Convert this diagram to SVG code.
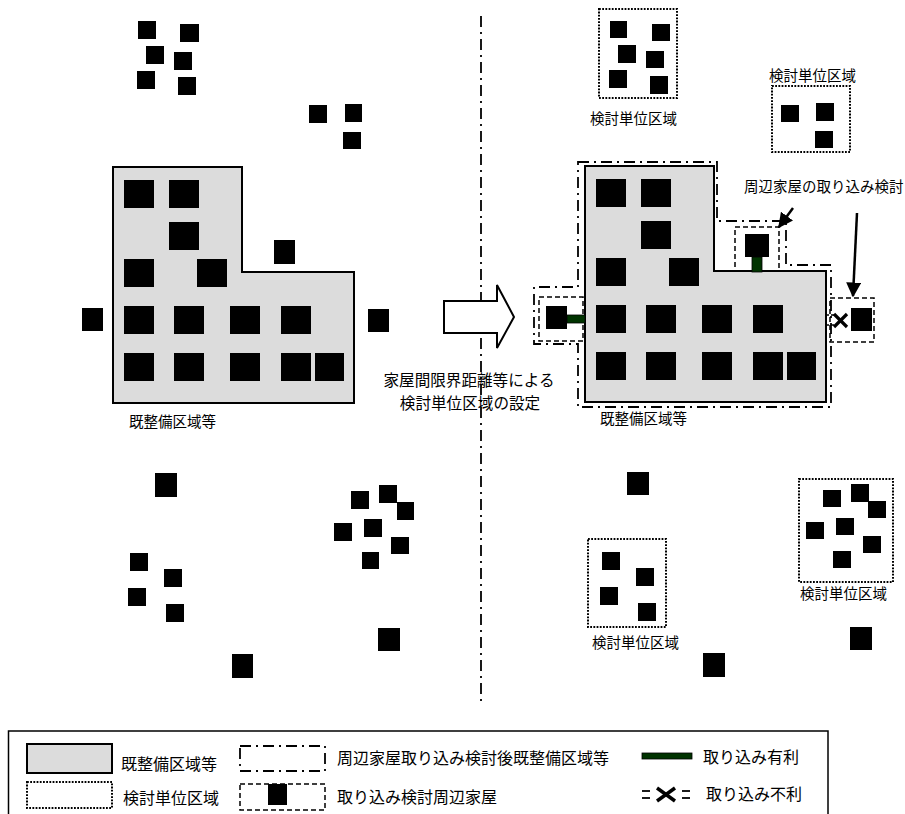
<svg xmlns="http://www.w3.org/2000/svg" width="905" height="814" viewBox="0 0 905 814">
<defs>
<style>
.h{fill:#000}
.reg{fill:#dcdcdc;stroke:#000;stroke-width:2}
.dd{fill:none;stroke:#000;stroke-width:1.8;stroke-dasharray:11 5 2 5}
.dash{fill:none;stroke:#000;stroke-width:1.5;stroke-dasharray:5 3}
.dot{fill:none;stroke:#000;stroke-width:2;stroke-dasharray:1.8 1.4}
.g{fill:#003300;stroke:#000;stroke-width:0.8}
.t{font-family:"Noto Sans CJK JP","Noto Sans CJK SC",sans-serif;fill:#000}
.s{font-size:14.5px}
.l{font-size:16px}
</style>
<marker id="ah" viewBox="0 0 10 10" refX="9" refY="5" markerWidth="15" markerHeight="15" markerUnits="userSpaceOnUse" orient="auto">
<path d="M0,0 L10,5 L0,10 z" fill="#000"/>
</marker>
</defs>
<rect width="905" height="814" fill="#fff"/>

<!-- divider -->
<line x1="481" y1="16" x2="481" y2="705" stroke="#000" stroke-width="1.8" stroke-dasharray="11 5 2 5"/>

<!-- LEFT PANEL -->
<g id="left-top-cluster">
<rect class="h" x="138" y="21" width="18" height="18"/>
<rect class="h" x="180" y="24" width="19" height="18"/>
<rect class="h" x="146" y="46" width="18" height="18"/>
<rect class="h" x="174" y="52" width="18" height="18"/>
<rect class="h" x="137" y="71" width="18" height="18"/>
<rect class="h" x="178" y="77" width="18" height="18"/>
</g>
<g id="left-top-cluster2">
<rect class="h" x="309" y="105" width="18" height="18"/>
<rect class="h" x="345" y="104" width="17" height="18"/>
<rect class="h" x="343" y="132" width="18" height="17"/>
</g>
<g id="left-region">
<polygon class="reg" points="113,167 242,167 242,272 354,272 354,403 113,403"/>
<rect class="h" x="124" y="180" width="30" height="28"/>
<rect class="h" x="169" y="180" width="30" height="28"/>
<rect class="h" x="169" y="222" width="30" height="28"/>
<rect class="h" x="124" y="259" width="30" height="28"/>
<rect class="h" x="197" y="259" width="30" height="28"/>
<rect class="h" x="124" y="306" width="30" height="28"/>
<rect class="h" x="174" y="306" width="30" height="28"/>
<rect class="h" x="230" y="306" width="30" height="28"/>
<rect class="h" x="281" y="306" width="30" height="28"/>
<rect class="h" x="124" y="353" width="30" height="28"/>
<rect class="h" x="174" y="353" width="30" height="28"/>
<rect class="h" x="230" y="353" width="30" height="28"/>
<rect class="h" x="281" y="353" width="30" height="28"/>
<rect class="h" x="315" y="353" width="29" height="28"/>
<text class="t s" x="129" y="426.5">既整備区域等</text>
</g>
<g id="left-near-houses">
<rect class="h" x="274" y="240" width="21" height="24"/>
<rect class="h" x="82" y="308" width="21" height="23"/>
<rect class="h" x="368" y="309" width="21" height="23"/>
</g>
<g id="left-bottom">
<rect class="h" x="155" y="473" width="22" height="24"/>
<rect class="h" x="351" y="491" width="18" height="18"/>
<rect class="h" x="379" y="485" width="18" height="18"/>
<rect class="h" x="397" y="502" width="17" height="18"/>
<rect class="h" x="334" y="523" width="18" height="18"/>
<rect class="h" x="364" y="519" width="18" height="18"/>
<rect class="h" x="391" y="537" width="18" height="17"/>
<rect class="h" x="362" y="552" width="17" height="17"/>
<rect class="h" x="130" y="553" width="18" height="18"/>
<rect class="h" x="164" y="569" width="18" height="18"/>
<rect class="h" x="128" y="588" width="18" height="18"/>
<rect class="h" x="166" y="604" width="18" height="18"/>
<rect class="h" x="378" y="628" width="22" height="23"/>
<rect class="h" x="232" y="654" width="21" height="24"/>
</g>

<!-- middle -->
<g id="center-label">
<text class="t" font-size="15.6" x="469" y="386" text-anchor="middle">家屋間限界距離等による</text>
<text class="t" font-size="15.6" x="470" y="409" text-anchor="middle">検討単位区域の設定</text>
</g>

<!-- RIGHT PANEL -->
<g id="right-unit-1">
<rect class="dot" x="599" y="9" width="78" height="89"/>
<rect class="h" x="610" y="21" width="17" height="17"/>
<rect class="h" x="652" y="24" width="18" height="17"/>
<rect class="h" x="618" y="45" width="18" height="18"/>
<rect class="h" x="646" y="51" width="18" height="17"/>
<rect class="h" x="609" y="70" width="18" height="18"/>
<rect class="h" x="650" y="76" width="18" height="18"/>
<text class="t s" x="590" y="123.5">検討単位区域</text>
</g>
<g id="right-unit-2">
<rect class="dot" x="772" y="86" width="78" height="66"/>
<rect class="h" x="781" y="105" width="18" height="17"/>
<rect class="h" x="816" y="103" width="18" height="18"/>
<rect class="h" x="815" y="131" width="18" height="17"/>
<text class="t s" x="769" y="80.5">検討単位区域</text>
</g>
<g id="right-region-after">
<polygon class="dd" points="578,162 717,162 717,221 786,221 786,265 831,265 831,407 578,407 578,344 534,344 534,287 578,287"/>
</g>
<g id="right-region">
<polygon class="reg" points="585,166 714,166 714,271 826,271 826,402 585,402"/>
<rect class="h" x="596" y="179" width="30" height="28"/>
<rect class="h" x="641" y="179" width="30" height="28"/>
<rect class="h" x="641" y="221" width="30" height="28"/>
<rect class="h" x="596" y="258" width="30" height="28"/>
<rect class="h" x="669" y="258" width="30" height="28"/>
<rect class="h" x="596" y="305" width="30" height="28"/>
<rect class="h" x="646" y="305" width="30" height="28"/>
<rect class="h" x="702" y="305" width="30" height="28"/>
<rect class="h" x="753" y="305" width="30" height="28"/>
<rect class="h" x="596" y="352" width="30" height="28"/>
<rect class="h" x="646" y="352" width="30" height="28"/>
<rect class="h" x="702" y="352" width="30" height="28"/>
<rect class="h" x="753" y="352" width="30" height="28"/>
<rect class="h" x="787" y="352" width="29" height="28"/>
<text class="t s" x="600" y="423.5">既整備区域等</text>
</g>
<g id="cand-left">
<rect class="dash" x="539" y="297" width="44" height="44"/>
<rect class="h" x="546" y="306" width="21" height="23"/>
</g>
<g id="cand-top">
<rect class="dash" x="735" y="227" width="44" height="44"/>
<rect class="h" x="745" y="234" width="24" height="23"/>
</g>
<g id="cand-right">
<rect class="dash" x="830" y="298" width="44" height="44"/>
<rect class="h" x="851" y="308" width="21" height="23"/>
</g>
<g id="right-bottom-single">
<rect class="h" x="627" y="472" width="22" height="23"/>
<rect class="h" x="850" y="627" width="22" height="23"/>
<rect class="h" x="703" y="653" width="22" height="24"/>
</g>
<g id="right-unit-3">
<rect class="dot" x="588" y="539" width="78" height="88"/>
<rect class="h" x="602" y="552" width="18" height="18"/>
<rect class="h" x="636" y="568" width="18" height="18"/>
<rect class="h" x="600" y="587" width="18" height="18"/>
<rect class="h" x="638" y="603" width="18" height="18"/>
<text class="t s" x="592" y="647.5">検討単位区域</text>
</g>
<g id="right-unit-4">
<rect class="dot" x="799" y="479" width="94" height="103"/>
<rect class="h" x="823" y="490" width="18" height="17"/>
<rect class="h" x="851" y="484" width="18" height="18"/>
<rect class="h" x="868" y="501" width="18" height="17"/>
<rect class="h" x="806" y="522" width="18" height="17"/>
<rect class="h" x="836" y="518" width="18" height="17"/>
<rect class="h" x="863" y="536" width="18" height="17"/>
<rect class="h" x="833" y="551" width="18" height="17"/>
<text class="t s" x="800" y="598.5">検討単位区域</text>
</g>
<g id="note">
<text class="t s" x="744" y="191.5">周辺家屋の取り込み検討</text>
</g>

<!-- connectors -->
<g id="connectors">
<polygon points="444,301 497,301 497,285 514,317 497,348 497,333 444,333" fill="#fff" stroke="#000" stroke-width="2"/>
<rect class="g" x="567" y="315" width="18" height="8"/>
<rect class="g" x="752" y="257" width="10" height="15"/>
<g stroke="#000" stroke-width="1.5" stroke-dasharray="3 2" fill="none">
<line x1="826" y1="315" x2="834" y2="315"/>
<line x1="826" y1="325" x2="834" y2="325"/>
</g>
<g stroke="#000" stroke-width="3.2">
<line x1="834" y1="314" x2="847" y2="327"/>
<line x1="847" y1="314" x2="834" y2="327"/>
</g>
<line x1="793" y1="208" x2="779" y2="227" stroke="#000" stroke-width="2.5" marker-end="url(#ah)"/>
<line x1="857" y1="213" x2="853" y2="296" stroke="#000" stroke-width="2.5" marker-end="url(#ah)"/>
</g>

<!-- LEGEND -->
<g id="legend">
<rect x="8.5" y="731" width="819.5" height="100" fill="none" stroke="#000" stroke-width="1.5"/>
<rect class="reg" x="27" y="744" width="85" height="29"/>
<text class="t l" x="121" y="770">既整備区域等</text>
<rect class="dot" x="27" y="782" width="85" height="26"/>
<text class="t l" x="123" y="804">検討単位区域</text>
<rect class="dd" x="240" y="746" width="85" height="25"/>
<text class="t l" x="337" y="764">周辺家屋取り込み検討後既整備区域等</text>
<rect class="dash" x="240" y="784" width="85" height="26"/>
<rect class="h" x="268" y="784" width="19" height="21"/>
<text class="t l" x="337" y="803">取り込み検討周辺家屋</text>
<rect class="g" x="642" y="753" width="50" height="6"/>
<text class="t l" x="703" y="763">取り込み有利</text>
<g stroke="#000" stroke-width="1.8">
<line x1="642" y1="791" x2="650" y2="791"/>
<line x1="642" y1="798" x2="650" y2="798"/>
<line x1="682" y1="791" x2="690" y2="791"/>
<line x1="682" y1="798" x2="690" y2="798"/>
</g>
<g stroke="#000" stroke-width="3.5">
<line x1="657" y1="788" x2="675" y2="801"/>
<line x1="675" y1="788" x2="657" y2="801"/>
</g>
<text class="t l" x="706" y="800">取り込み不利</text>
</g>
</svg>
